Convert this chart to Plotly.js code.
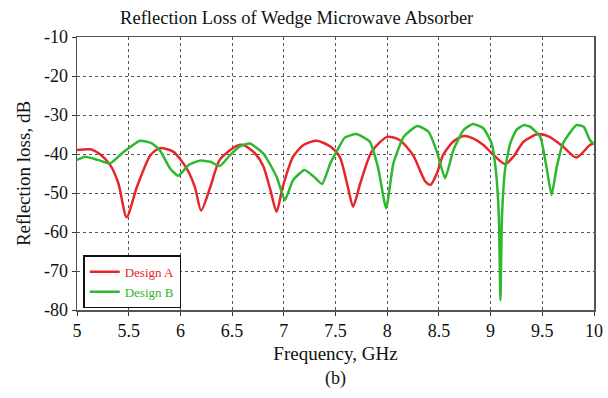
<!DOCTYPE html>
<html>
<head>
<meta charset="utf-8">
<script src="https://cdn.plot.ly/plotly-3.0.1.min.js"></script>
<style>html,body{margin:0;padding:0;background:#fff;}#chart{width:608px;height:398px;}</style>
</head>
<body>
<div id="chart"></div>
<script>
const freqA = [5.00,5.13,5.22,5.32,5.40,5.48,5.58,5.71,5.80,5.93,6.06,6.14,6.20,6.29,6.38,6.54,6.61,6.72,6.80,6.87,6.93,6.99,7.09,7.19,7.32,7.45,7.54,7.62,7.67,7.74,7.85,8.00,8.12,8.25,8.37,8.42,8.48,8.54,8.64,8.74,8.83,8.93,9.03,9.14,9.22,9.32,9.46,9.57,9.70,9.83,9.96,10.0];
const designA = [-39.0,-38.8,-40.0,-42.8,-47.5,-56.2,-48.4,-40.3,-38.5,-39.4,-43.7,-48.5,-54.5,-48.4,-41.5,-38.0,-37.7,-39.8,-43.0,-49.2,-54.8,-48.4,-40.7,-37.7,-36.6,-38.1,-40.7,-48.5,-53.5,-47.5,-39.4,-35.6,-36.4,-40.3,-47.1,-47.9,-45.0,-40.3,-36.8,-35.4,-36.0,-37.7,-40.3,-42.6,-40.7,-36.8,-34.9,-35.6,-38.1,-40.9,-37.7,-37.3];
const freqB = [5.00,5.08,5.20,5.32,5.45,5.61,5.72,5.80,5.90,5.98,6.08,6.19,6.29,6.38,6.48,6.58,6.67,6.80,6.93,7.01,7.09,7.20,7.29,7.37,7.45,7.51,7.59,7.70,7.83,7.91,7.99,8.06,8.16,8.29,8.40,8.48,8.56,8.64,8.74,8.83,8.93,9.01,9.05,9.08,9.095,9.11,9.14,9.19,9.25,9.32,9.38,9.48,9.54,9.59,9.64,9.70,9.83,9.90,9.96,10.0];
const designB = [-41.5,-40.7,-41.5,-42.4,-39.5,-36.6,-37.2,-39.0,-43.7,-45.6,-42.8,-41.7,-42.0,-43.1,-40.3,-38.0,-37.3,-39.8,-45.8,-51.8,-46.7,-44.1,-45.8,-47.7,-42.4,-39.4,-35.8,-34.9,-36.8,-43.3,-53.9,-42.4,-35.6,-32.8,-34.3,-39.4,-46.2,-39.0,-33.8,-32.3,-33.4,-37.3,-44.0,-56.0,-77.5,-56.0,-44.0,-37.3,-33.8,-32.6,-33.0,-35.6,-43.3,-50.5,-43.3,-37.3,-32.6,-33.0,-36.4,-37.5];
const xTicks = [5,5.5,6,6.5,7,7.5,8,8.5,9,9.5,10];
const xTickText = ["5","5.5","6","6.5","7","7.5","8","8.5","9","9.5","10"];
const yTicks = [-80,-70,-60,-50,-40,-30,-20,-10];
const yTickText = ["-80","-70","-60","-50","-40","-30","-20","-10"];

const serif = "Liberation Serif, Times New Roman, serif";
const traces = [
  {x: freqA, y: designA, mode: 'lines', name: '<span style="color:#e8262a">Design A</span>',
   line: {color: '#e8262a', width: 2.5, shape: 'spline', smoothing: 0.7}},
  {x: freqB, y: designB, mode: 'lines', name: '<span style="color:#2db82d">Design B</span>',
   line: {color: '#2db82d', width: 2.5, shape: 'spline', smoothing: 0.5}}
];
const layout = {
  width: 608, height: 398,
  margin: {l: 77, r: 14, t: 37, b: 88},
  paper_bgcolor: '#fff', plot_bgcolor: '#fff',
  font: {family: serif, color: '#111', size: 18},
  title: {text: 'Reflection Loss of Wedge Microwave Absorber', font: {family: serif, size: 18.5, color: '#111'}, x: 0.488, xanchor: 'center', y: 0.955, yanchor: 'middle'},
  xaxis: {range: [5, 10], tickvals: xTicks, ticktext: xTickText, showgrid: true, gridcolor: '#555', griddash: 'dot', gridwidth: 1,
    showline: true, linecolor: '#555', linewidth: 1.5, mirror: true, ticks: 'outside', ticklen: 4, tickcolor: '#333',
    tickfont: {family: serif, size: 18, color: '#111'}, zeroline: false,
    title: {text: 'Frequency, GHz', font: {family: serif, size: 19, color: '#111'}, standoff: 6}},
  yaxis: {range: [-80, -10], tickvals: yTicks, ticktext: yTickText, showgrid: true, gridcolor: '#555', griddash: 'dot', gridwidth: 1,
    showline: true, linecolor: '#555', linewidth: 1.5, mirror: true, ticks: 'outside', ticklen: 4, tickcolor: '#333',
    tickfont: {family: serif, size: 18, color: '#111'}, zeroline: false,
    title: {text: 'Reflection loss, dB', font: {family: serif, size: 19, color: '#111'}, standoff: 8}},
  showlegend: true,
  legend: {x: 0.012, y: 0.2, xanchor: 'left', yanchor: 'top', bgcolor: '#fff', bordercolor: '#111', borderwidth: 1.5,
    font: {family: serif, size: 13}, tracegroupgap: 0},
  annotations: [{text: '(b)', xref: 'paper', yref: 'paper', x: 0.5, y: -0.25, xanchor: 'center', yanchor: 'middle', showarrow: false,
    font: {family: serif, size: 18, color: '#111'}}]
};
Plotly.newPlot('chart', traces, layout, {displayModeBar: false, staticPlot: true});
</script>
</body>
</html>
